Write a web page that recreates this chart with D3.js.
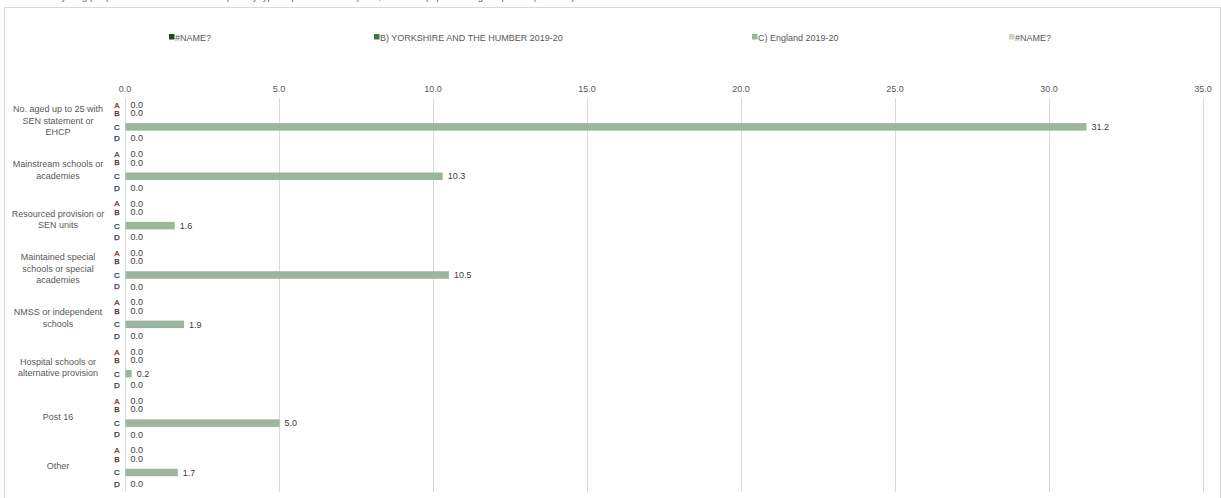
<!DOCTYPE html>
<html>
<head>
<meta charset="utf-8">
<script src="https://cdn.jsdelivr.net/npm/d3@7"></script>
<style>
  html, body { margin: 0; padding: 0; background: #fff; }
  svg { display: block; font-family: "Liberation Sans", Arial, sans-serif; }
</style>
</head>
<body>
<svg id="chart" width="1221" height="498"></svg>
<script>
// ---- data ----
const titleText = "Children and young people with a statement or EHC plan by type of provision - rate per 1,000 of the population aged up to 25 (2019-20)";
const categories = [
  ["No. aged up to 25 with", "SEN statement or", "EHCP"],
  ["Mainstream schools or", "academies"],
  ["Resourced provision or", "SEN units"],
  ["Maintained special", "schools or special", "academies"],
  ["NMSS or independent", "schools"],
  ["Hospital schools or", "alternative provision"],
  ["Post 16"],
  ["Other"]
];
const seriesKeys = ["A", "B", "C", "D"];
const seriesNames = ["#NAME?", "B) YORKSHIRE AND THE HUMBER 2019-20", "C) England 2019-20", "#NAME?"];
const seriesColors = ["#1e4a26", "#3b7a45", "#9ab69c", "#c9d7c4"];
const letterColors = ["#7b2d26", "#3d1f1a", "#1f3b4d", "#1f2f5c"];
const valuesA = [0, 0, 0, 0, 0, 0, 0, 0];
const valuesB = [0, 0, 0, 0, 0, 0, 0, 0];
const valuesC = [31.2, 10.3, 1.6, 10.5, 1.9, 0.2, 5.0, 1.7];
const valuesD = [0, 0, 0, 0, 0, 0, 0, 0];
const xTicks = [0, 5, 10, 15, 20, 25, 30, 35];

const seriesValues = [valuesA, valuesB, valuesC, valuesD];

// ---- layout ----
const svg = d3.select("#chart");
const plot = { left: 125, right: 1203, top: 96, bottom: 491 };

// frame
svg.append("rect").attr("x", 4.5).attr("y", 7.5).attr("width", 1216).attr("height", 500)
  .attr("fill", "#fff").attr("stroke", "#d9d9d9").attr("stroke-width", 1);

// title (cut off at the top edge, as in the reference)
svg.append("text").attr("x", 5).attr("y", 0)
  .attr("font-size", 9.5).attr("fill", "#595959").text(titleText);

const x = d3.scaleLinear().domain([0, 35]).range([plot.left, plot.right]);
const y0 = d3.scaleBand().domain(d3.range(categories.length)).range([plot.top, plot.bottom]).padding(0);
const y1 = d3.scaleBand().domain(seriesKeys).range([0, y0.bandwidth()]).padding(0);
const barH = y1.bandwidth() * 0.61;

// gridlines
svg.append("g").selectAll("line").data(xTicks).join("line")
  .attr("x1", d => Math.round(x(d)) + 0.5).attr("x2", d => Math.round(x(d)) + 0.5)
  .attr("y1", plot.top + 2).attr("y2", plot.bottom + 1)
  .attr("stroke", "#d9d9d9").attr("stroke-width", 1);

// tick labels (top)
svg.append("g").selectAll("text").data(xTicks).join("text")
  .attr("x", d => x(d)).attr("y", 92)
  .attr("text-anchor", "middle").attr("font-size", 9).attr("fill", "#595959")
  .text(d => d3.format(".1f")(d));

// legend
const legendX = [169, 374, 752, 1009];
const lg = svg.append("g");
seriesNames.forEach((n, i) => {
  lg.append("rect").attr("x", legendX[i]).attr("y", 34).attr("width", 5.5).attr("height", 5.5)
    .attr("fill", seriesColors[i]);
  lg.append("text").attr("x", legendX[i] + 6).attr("y", 40.5)
    .attr("font-size", 9).attr("fill", "#595959").text(n);
});

// data rows
const rows = [];
categories.forEach((c, ci) => {
  seriesKeys.forEach((k, si) => {
    rows.push({ ci, si, k, v: seriesValues[si][ci] });
  });
});

const labelOffset = [2.5, -1.5, 0, -1];
const rowY = d => y0(d.ci) + y1(d.k) + y1.bandwidth() / 2;

svg.append("g").selectAll("rect").data(rows).join("rect")
  .attr("x", x(0) + 0.5)
  .attr("y", d => rowY(d) - barH / 2)
  .attr("width", d => Math.max(0, x(d.v) - x(0)))
  .attr("height", barH)
  .attr("fill", d => seriesColors[d.si]);

// value labels
svg.append("g").selectAll("text").data(rows).join("text")
  .attr("x", d => x(d.v) + 5.5)
  .attr("y", d => rowY(d) + labelOffset[d.si] + 3.2)
  .attr("font-size", 9).attr("fill", "#404040")
  .text(d => d3.format(".1f")(d.v));

// series letters
svg.append("g").selectAll("text").data(rows).join("text")
  .attr("x", 117).attr("y", d => rowY(d) + labelOffset[d.si] + 3)
  .attr("text-anchor", "middle").attr("font-size", 8)
  .attr("stroke", d => letterColors[d.si]).attr("stroke-width", 0.25)
  .attr("fill", d => letterColors[d.si])
  .text(d => d.k);

// category labels
const cg = svg.append("g");
categories.forEach((lines, ci) => {
  const cy = y0(ci) + y0.bandwidth() / 2;
  const lh = 11.5;
  const t = cg.append("text").attr("text-anchor", "middle").attr("font-size", 9).attr("fill", "#595959");
  lines.forEach((ln, li) => {
    t.append("tspan").attr("x", 58)
      .attr("y", cy + (li - (lines.length - 1) / 2) * lh + 3)
      .text(ln);
  });
});
</script>
</body>
</html>
